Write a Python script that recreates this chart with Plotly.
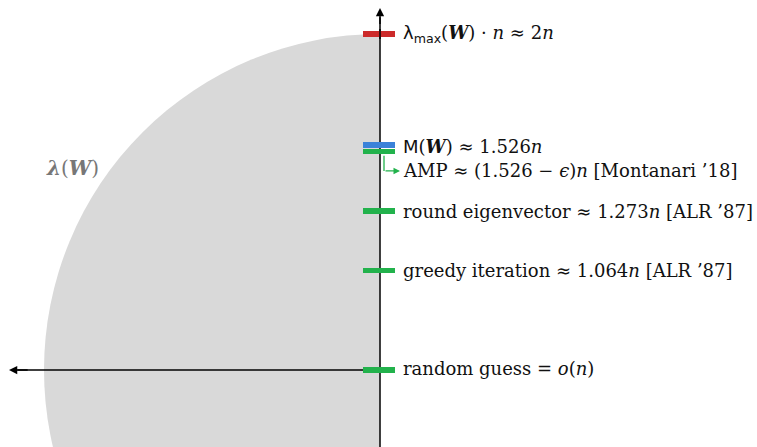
import plotly.graph_objects as go

# --- data (schematic heights in units where the semicircle radius = 2) ---
labels = [
    '<span style="font-family:DejaVu Sans">λ<sub>max</sub></span>(<b><i>W</i></b>) · <i>n</i> ≈ 2<i>n</i>',
    '<span style="font-family:DejaVu Sans">M</span>(<b><i>W</i></b>) ≈ 1.526<i>n</i>',
    'AMP ≈ (1.526 − <i>ϵ</i>)<i>n</i> [Montanari ’18]',
    'round eigenvector ≈ 1.273<i>n</i> [ALR ’87]',
    'greedy iteration ≈ 1.064<i>n</i> [ALR ’87]',
    'random guess = <i>o</i>(<i>n</i>)',
]
bar_heights = [2.0, 1.339, 1.301, 0.945, 0.593, 0.0]
label_heights = [2.0, 1.333, 1.185, 0.945, 0.595, 0.006]
bar_colors = ["#cc2a2a", "#3b82d9", "#22b24c", "#22b24c", "#22b24c", "#22b24c"]
radius = 2.0

# pixel geometry: origin at (380, 370), 168 px per unit
W, H = 757, 447
ox, oy, s = 380, 370, 168.0
xr = [(0 - ox) / s, (W - ox) / s]
yr = [(oy - H) / s, (oy - 0) / s]
bar_left, bar_len = -0.101, 0.19

fig = go.Figure()

# bars
fig.add_trace(go.Bar(
    orientation="h",
    y=bar_heights,
    x=[bar_len] * len(bar_heights),
    base=[bar_left] * len(bar_heights),
    width=[5.5 / s] * len(bar_heights),
    marker=dict(color=bar_colors, line=dict(width=0)),
    hoverinfo="skip",
    showlegend=False,
))

y_tip = (oy - 8) / s
x_tip = (9 - ox) / s

shapes = [
    # semicircle (left half)
    dict(type="circle", xref="x", yref="y", x0=-radius, x1=radius, y0=-radius, y1=radius,
         fillcolor="#d9d9d9", line=dict(width=0), layer="below"),
    dict(type="rect", xref="x", yref="y", x0=0, x1=xr[1] + 1, y0=yr[0] - 1, y1=yr[1] + 1,
         fillcolor="white", line=dict(width=0), layer="below"),
    # vertical axis (below bars)
    dict(type="line", xref="x", yref="y", x0=0, x1=0, y0=yr[0] - 0.1, y1=2.1,
         line=dict(color="black", width=1.5), layer="below"),
    # horizontal axis (below bars)
    dict(type="line", xref="x", yref="y", x0=0, x1=x_tip + 0.05, y0=0, y1=0,
         line=dict(color="black", width=1.5), layer="below"),
    # axis drawn over the red bar
    dict(type="line", xref="x", yref="y", x0=0, x1=0, y0=1.97, y1=2.03,
         line=dict(color="black", width=1.5), layer="above"),
    # green bent connector (vertical part)
    dict(type="line", xref="x", yref="y", x0=4 / s, x1=4 / s, y0=1.275, y1=label_heights[2],
         line=dict(color="#22b24c", width=1.3)),
]

annotations = []
for txt, yv in zip(labels, label_heights):
    annotations.append(dict(x=21 / s, y=yv, xref="x", yref="y", text=txt, showarrow=False,
                            xanchor="left", yanchor="middle",
                            font=dict(family="DejaVu Serif", size=18, color="#111")))

# axes arrowheads
annotations.append(dict(x=0, y=y_tip, ax=0, ay=2.05, xref="x", yref="y",
                        axref="x", ayref="y", text="", showarrow=True, arrowhead=2,
                        arrowsize=1.1, arrowwidth=1.5, arrowcolor="black", standoff=0))
annotations.append(dict(x=x_tip, y=0, ax=x_tip + 0.12, ay=0, xref="x", yref="y",
                        axref="x", ayref="y", text="", showarrow=True, arrowhead=2,
                        arrowsize=1.1, arrowwidth=1.5, arrowcolor="black", standoff=0))
# green connector arrow (horizontal part)
annotations.append(dict(x=20 / s, y=label_heights[2], ax=4 / s, ay=label_heights[2],
                        xref="x", yref="y", axref="x", ayref="y", text="", showarrow=True,
                        arrowhead=2, arrowsize=1, arrowwidth=1.3, arrowcolor="#22b24c",
                        standoff=0))
# lambda(W) label
annotations.append(dict(x=(72 - ox) / s, y=(oy - 168) / s, xref="x", yref="y",
                        text="<b><i>λ</i></b>(<b><i>W</i></b>)", showarrow=False,
                        font=dict(family="DejaVu Serif", size=20, color="#777777")))

fig.update_layout(
    width=W, height=H, margin=dict(l=0, r=0, t=0, b=0),
    paper_bgcolor="white", plot_bgcolor="white",
    xaxis=dict(range=xr, visible=False, fixedrange=True),
    yaxis=dict(range=yr, visible=False, fixedrange=True),
    shapes=shapes, annotations=annotations, bargap=0,
)

fig.write_html("out.html")
